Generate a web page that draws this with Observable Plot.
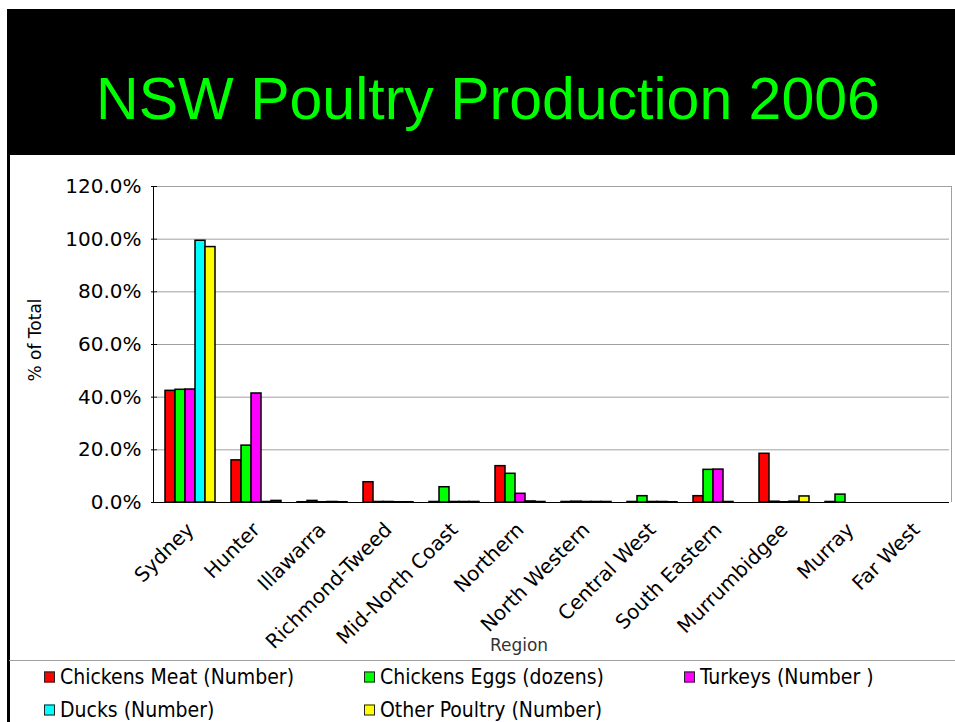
<!DOCTYPE html>
<html>
<head>
<meta charset="utf-8">
<script src="https://cdn.jsdelivr.net/npm/d3@7"></script>
<script src="https://cdn.jsdelivr.net/npm/@observablehq/plot@0.6"></script>
<style>
  html, body { margin: 0; padding: 0; background: white; }
  #root { position: relative; width: 955px; height: 722px; overflow: hidden; background: white; }
  #titlebox { position: absolute; left: 7px; top: 9px; width: 948px; height: 146px; background: black; }
  #title { position: absolute; left: 14px; width: 948px; top: 70px; text-align: center;
           font-family: "Liberation Sans", Arial, sans-serif; font-size: 59px; line-height: 1; color: #00ff00; white-space: nowrap; }
  #leftbar { position: absolute; left: 7px; top: 155px; width: 3px; height: 567px; background: black; }
  #frame { position: absolute; left: 153px; top: 186px; width: 799px; height: 316px;
           border-left: 1px solid black; border-top: 1px solid #a0a0a0; border-right: 1px solid #a0a0a0; box-sizing: border-box; }
  #chart { position: absolute; left: 0; top: 155px; }
  #ylabel { position: absolute; left: 35px; top: 340px; transform: translate(-50%, -50%) rotate(-90deg);
            font-family: "DejaVu Sans", sans-serif; font-size: 17px; color: black; white-space: nowrap; }
  #xlabel { position: absolute; left: 519px; top: 645px; transform: translate(-50%, -50%);
            font-family: "DejaVu Sans", sans-serif; font-size: 17px; color: #333; white-space: nowrap; }
  #sep { position: absolute; left: 9px; top: 660px; width: 946px; height: 1px; background: #a0a0a0; }
  .leg { position: absolute; font-family: "DejaVu Sans Condensed", "DejaVu Sans", sans-serif; font-size: 21px; line-height: 1; color: black; white-space: nowrap; transform: translateY(-50%); display: flex; align-items: center; }
  .sw { display: inline-block; width: 9px; height: 9px; border: 1px solid #222; margin-right: 5px; }
</style>
</head>
<body>
<div id="root">
  <div id="titlebox"></div>
  <div id="title">NSW Poultry Production 2006</div>
  <div id="leftbar"></div>
  <div id="frame"></div>
  <div id="chart"></div>
  <div id="ylabel">% of Total</div>
  <div id="xlabel">Region</div>
  <div id="sep"></div>
  <div id="legend"></div>
</div>
<script>
const regions = ["Sydney", "Hunter", "Illawarra", "Richmond-Tweed", "Mid-North Coast", "Northern",
  "North Western", "Central West", "South Eastern", "Murrumbidgee", "Murray", "Far West"];
const series = ["Chickens Meat (Number)", "Chickens Eggs (dozens)", "Turkeys (Number )", "Ducks (Number)", "Other Poultry (Number)"];
const colors = ["#ff0000", "#00ff00", "#ff00ff", "#00ffff", "#ffff00"];

// percent of NSW total, per region (same order as regions)
const chickensMeat = [42.4, 16.0, 0.1, 7.7, 0.2, 13.8, 0.2, 0.2, 2.4, 18.5, 0.2, 0];
const chickensEggs = [42.8, 21.6, 0.6, 0.2, 5.8, 10.9, 0.3, 2.4, 12.4, 0.3, 3.0, 0];
const turkeys      = [42.9, 41.4, 0.1, 0.2, 0.2, 3.3, 0.2, 0.2, 12.5, 0.1, 0, 0];
const ducks        = [99.4, 0.2, 0.2, 0.1, 0.2, 0.4, 0.2, 0.2, 0.2, 0.3, 0, 0];
const otherPoultry = [97.0, 0.6, 0.1, 0.1, 0.2, 0.2, 0.2, 0.1, 0, 2.3, 0, 0];

const yTicks = [0, 0.2, 0.4, 0.6, 0.8, 1.0, 1.2];

const seriesValues = [chickensMeat, chickensEggs, turkeys, ducks, otherPoultry];
const data = regions.flatMap((r, i) => series.map((s, j) => ({region: r, series: s, value: seriesValues[j][i] / 100})));

const chart = Plot.plot({
  width: 955,
  height: 505,
  marginTop: 31,
  marginBottom: 158,
  marginLeft: 153,
  marginRight: 2,
  style: {fontFamily: "DejaVu Sans, sans-serif", fontSize: "20px", color: "black", background: "transparent", overflow: "visible"},
  fx: {domain: regions, padding: 0, axis: "bottom", tickRotate: -45, tickSize: 0, tickPadding: 24, label: null},
  x: {domain: series, paddingInner: 0, paddingOuter: 0.6, axis: null},
  y: {domain: [0, 1.2], ticks: yTicks, tickFormat: d3.format(".1%"), tickSize: 6, tickPadding: 10, label: null},
  color: {domain: series, range: colors},
  marks: [
    Plot.ruleY(yTicks.filter(d => d > 0), {stroke: "#a0a0a0", strokeWidth: 1}),
    Plot.barY(data, {fx: "region", x: "series", y: "value", fill: "series", stroke: "black", strokeWidth: 1.5, inset: 0}),
    Plot.ruleY([0], {stroke: "black", strokeWidth: 1})
  ]
});
document.getElementById("chart").appendChild(chart);

const legendPos = [[44, 677], [364, 677], [684, 677], [44, 710], [364, 710]];
const legend = document.getElementById("legend");
series.forEach((s, i) => {
  const item = document.createElement("div");
  item.className = "leg";
  item.style.left = legendPos[i][0] + "px";
  item.style.top = legendPos[i][1] + "px";
  const sw = document.createElement("span");
  sw.className = "sw";
  sw.style.background = colors[i];
  item.appendChild(sw);
  item.appendChild(document.createTextNode(s));
  legend.appendChild(item);
});
</script>
</body>
</html>
